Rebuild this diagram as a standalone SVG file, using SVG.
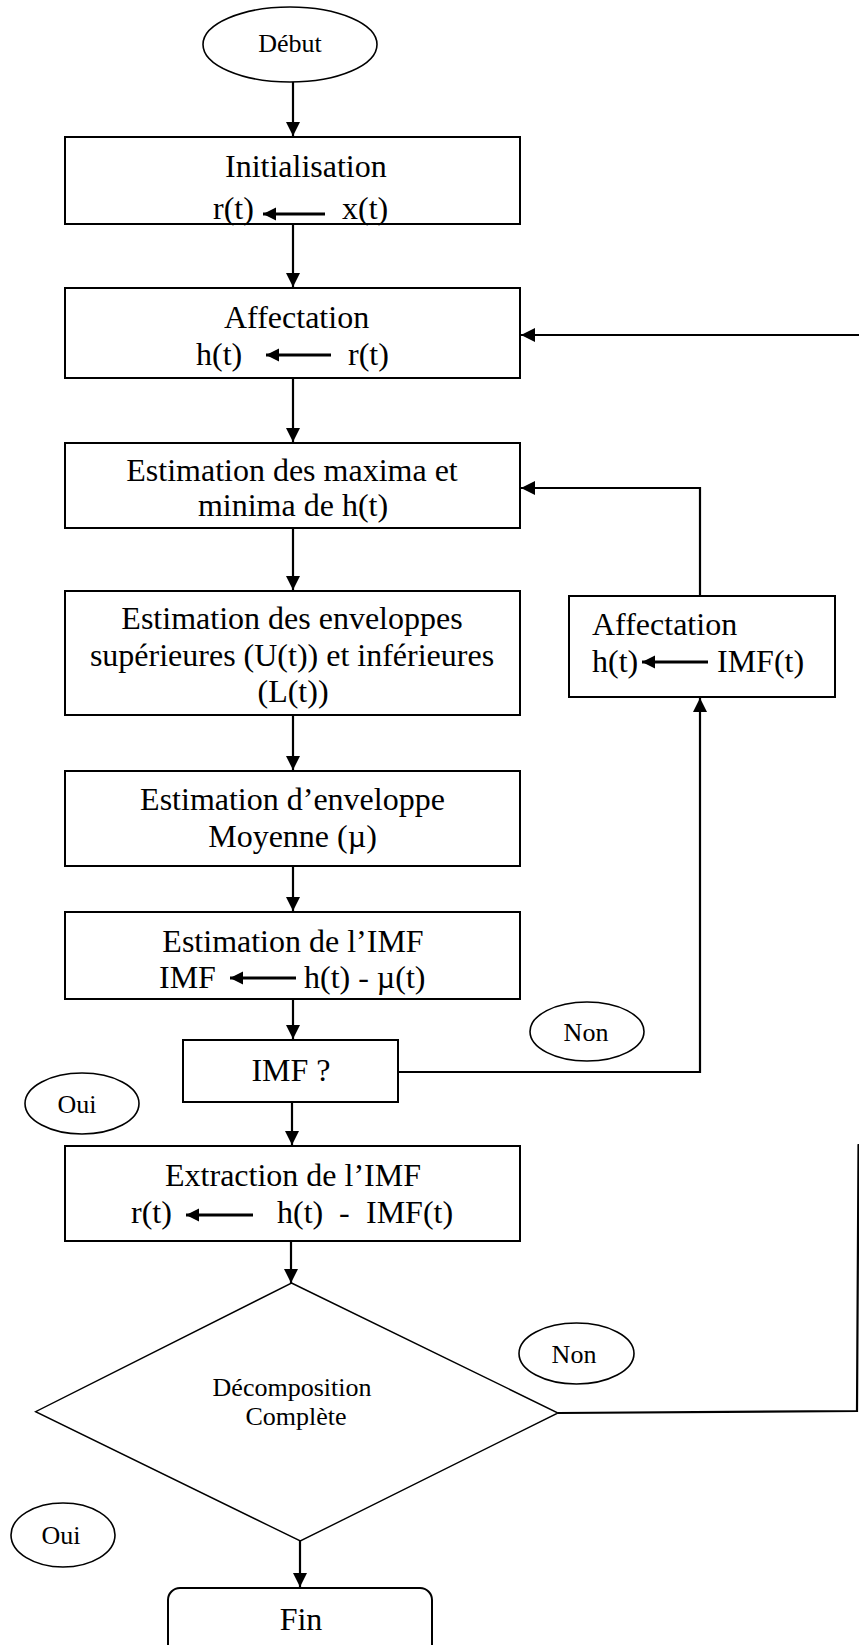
<svg xmlns="http://www.w3.org/2000/svg" width="859" height="1645" viewBox="0 0 859 1645">
<style>
text{font-family:"Liberation Serif","Times New Roman",serif;fill:#000}
.t{font-size:32px}
.s{font-size:26px}
.m{text-anchor:middle}
.box{fill:#fff;stroke:#000;stroke-width:2}
.ell{fill:#fff;stroke:#000;stroke-width:1.6}
.dia{fill:#fff;stroke:#000;stroke-width:1.4}
.c{fill:none;stroke:#000;stroke-width:2.2;marker-end:url(#ah)}
.ia{fill:none;stroke:#000;stroke-width:2.8;marker-end:url(#ai)}
</style>
<defs>
<marker id="ah" markerUnits="userSpaceOnUse" markerWidth="16" markerHeight="16" refX="14" refY="7.5" orient="auto"><path d="M0,0.5 L14,7.5 L0,14.5 z" fill="#000"/></marker>
<marker id="ai" markerUnits="userSpaceOnUse" markerWidth="16" markerHeight="16" refX="13" refY="6.5" orient="auto"><path d="M0,0 L13,6.5 L0,13 z" fill="#000"/></marker>
</defs>
<rect width="859" height="1645" fill="#fff"/>
<g id="connectors">
<path class="c" d="M293,82 V136"/>
<path class="c" d="M293,224 V287"/>
<path class="c" d="M293,378 V442"/>
<path class="c" d="M293,528 V590"/>
<path class="c" d="M293,715 V770"/>
<path class="c" d="M293,866 V911"/>
<path class="c" d="M293,999 V1039"/>
<path class="c" d="M292,1102 V1145"/>
<path class="c" d="M291,1241 V1283"/>
<path class="c" d="M300,1541 V1587"/>
<path class="c" d="M398,1072 H700 V698"/>
<path class="c" d="M700,596 V488 H521"/>
<path class="c" d="M558,1413 L857,1411 L858.5,1145 L880,1140 L880,335 L521,335"/>
</g>
<g id="debut"><ellipse class="ell" cx="290" cy="44.5" rx="87" ry="37.5"/><text class="s m" x="290" y="52">Début</text></g>
<g id="init"><rect class="box" x="65" y="137" width="455" height="87"/>
<text class="t" x="225" y="177">Initialisation</text>
<text class="t" x="213" y="219">r(t)</text><path class="ia" d="M325,214 H263"/><text class="t" x="342" y="219">x(t)</text></g>
<g id="affectation"><rect class="box" x="65" y="288" width="455" height="90"/>
<text class="t" x="224" y="328">Affectation</text>
<text class="t" x="196" y="365">h(t)</text><path class="ia" d="M331,355 H266"/><text class="t" x="348" y="365">r(t)</text></g>
<g id="maxima"><rect class="box" x="65" y="443" width="455" height="85"/>
<text class="t m" x="292" y="481">Estimation des maxima et</text>
<text class="t m" x="293" y="516">minima de h(t)</text></g>
<g id="enveloppes"><rect class="box" x="65" y="591" width="455" height="124"/>
<text class="t m" x="292" y="629">Estimation des enveloppes</text>
<text class="t m" x="292" y="666">supérieures (U(t)) et inférieures</text>
<text class="t m" x="293" y="702">(L(t))</text></g>
<g id="moyenne"><rect class="box" x="65" y="771" width="455" height="95"/>
<text class="t m" x="292.5" y="810">Estimation d’enveloppe</text>
<text class="t m" x="292.5" y="847">Moyenne (µ)</text></g>
<g id="estim-imf"><rect class="box" x="65" y="912" width="455" height="87"/>
<text class="t m" x="293" y="952">Estimation de l’IMF</text>
<text class="t" x="159" y="988">IMF</text><path class="ia" d="M296,978 H230"/><text class="t" x="304" y="988">h(t) - µ(t)</text></g>
<g id="imf-test"><rect class="box" x="183" y="1040" width="215" height="62"/>
<text class="t m" x="291" y="1081">IMF ?</text></g>
<g id="non1"><ellipse class="ell" cx="587" cy="1031.5" rx="57" ry="29.5"/><text class="s m" x="586" y="1041">Non</text></g>
<g id="oui1"><ellipse class="ell" cx="82" cy="1103.5" rx="57" ry="30.5"/><text class="s m" x="77" y="1113">Oui</text></g>
<g id="affectation2"><rect class="box" x="569" y="596" width="266" height="101"/>
<text class="t" x="592" y="635">Affectation</text>
<text class="t" x="592" y="672">h(t)</text><path class="ia" d="M708,662 H642"/><text class="t" x="717" y="672">IMF(t)</text></g>
<g id="extraction"><rect class="box" x="65" y="1146" width="455" height="95"/>
<text class="t m" x="293" y="1186">Extraction de l’IMF</text>
<text class="t" x="131" y="1223">r(t)</text><path class="ia" d="M253,1215 H186"/>
<text class="t" x="277" y="1223">h(t)</text><text class="t" x="339" y="1223">-</text><text class="t" x="366" y="1223">IMF(t)</text></g>
<g id="decomposition"><path class="dia" d="M291.5,1283 L558,1413 L300.3,1541 L35.6,1411.7 z"/>
<text class="s m" x="292" y="1396">Décomposition</text>
<text class="s m" x="296" y="1425">Complète</text></g>
<g id="non2"><ellipse class="ell" cx="576.5" cy="1353.5" rx="57.5" ry="30.5"/><text class="s m" x="574" y="1363">Non</text></g>
<g id="oui2"><ellipse class="ell" cx="63" cy="1535" rx="52" ry="32"/><text class="s m" x="61" y="1544">Oui</text></g>
<g id="fin"><rect class="box" x="168" y="1588" width="264" height="80" rx="12"/>
<text class="t m" x="301" y="1630">Fin</text></g>
</svg>
